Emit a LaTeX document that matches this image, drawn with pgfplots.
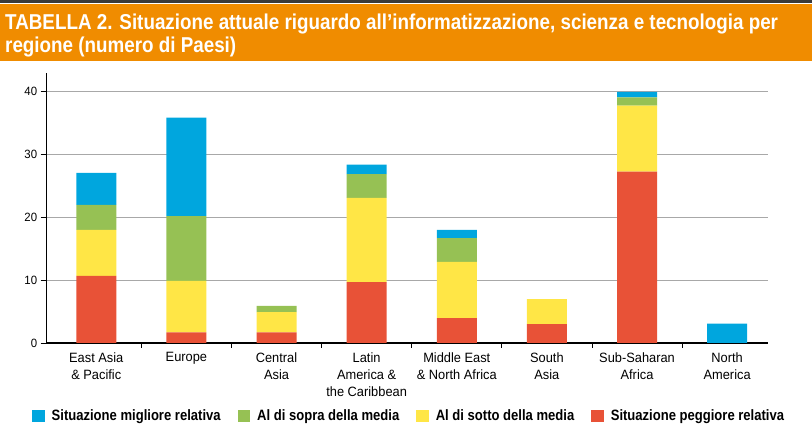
\documentclass[border=0pt]{standalone}
\usepackage{fontspec}
\setmainfont{Liberation Sans}
\newfontfamily\ttlfont{Liberation Sans}[FakeStretch=0.875]
\newfontfamily\labfont{Liberation Sans}[FakeStretch=0.95]
\newfontfamily\legfont{Liberation Sans}[FakeStretch=0.87]
\usepackage{pgfplots}
\pgfplotsset{compat=1.18}
\definecolor{band}{HTML}{F08C00}
\definecolor{bandtop}{HTML}{3A3A3A}
\definecolor{cblue}{HTML}{00A6DE}
\definecolor{cgreen}{HTML}{96C154}
\definecolor{cyellow}{HTML}{FFE646}
\definecolor{cred}{HTML}{E85237}
\definecolor{gridc}{HTML}{A8A8A8}

\begin{document}
\begin{tikzpicture}[x=1pt,y=1pt]
\useasboundingbox (0,0) rectangle (812,-435);
% title band
\fill[bandtop] (0,-0.5) rectangle (812,-3);
\fill[band] (0,-4.5) rectangle (812,-61);
\node[anchor=base west, inner sep=0, text=white,
  font=\ttlfont\bfseries\fontsize{21.5}{23}\selectfont] at (5,-30)
  {TABELLA 2. Situazione attuale riguardo all’informatizzazione, scienza e tecnologia per};
\node[anchor=base west, inner sep=0, text=white,
  font=\ttlfont\bfseries\fontsize{21.5}{23}\selectfont] at (5,-53)
  {regione (numero di Paesi)};

\begin{axis}[
    at={(46.7pt,-343pt)}, anchor=south west, scale only axis,
    width=721pt, height=270pt,
    ybar stacked, bar width=40pt,
    xmin=-0.55, xmax=7.45, ymin=0, ymax=43,
    axis x line=bottom, axis y line=left,
    axis line style={-, black, line width=1.1pt},
    tick align=outside,
    xtick={0,...,7},
    xticklabels={East Asia\\\& Pacific, Europe, Central\\Asia,
      Latin\\America \&\\the Caribbean, Middle East\\\& North Africa,
      South\\Asia, Sub-Saharan\\Africa, North\\America},
    every major x tick/.style={draw=none},
    minor xtick={0.5,1.5,...,6.5},
    minor tick length=5pt,
    ytick={0,10,20,30,40},
    major tick length=6pt,
    tick style={black, line width=0.8pt},
    ymajorgrids, grid style={gridc, line width=1pt},
    /pgf/number format/assume math mode=true,
    xticklabel style={align=center, font=\labfont\fontsize{13.5}{17}\selectfont},
    yticklabel style={font=\labfont\fontsize{12}{12}\selectfont},
    legend columns=4, reverse legend,
    legend style={at={(-0.0204,-0.27)}, anchor=west, draw=none, fill=none,
      inner sep=0pt, font=\legfont\bfseries\fontsize{15}{15}\selectfont,
      nodes={inner sep=0pt},
      /tikz/every odd column/.append style={column sep=7pt},
      /tikz/every even column/.append style={column sep=17pt}},
    legend image code/.code={\fill[#1] (0pt,-6pt) rectangle (12.5pt,6.5pt);},
]
\addplot[fill=cred, draw=none] coordinates
  {(0,10.7) (1,1.7) (2,1.7) (3,9.7) (4,3.95) (5,3.0) (6,27.3) (7,0)};
\addplot[fill=cyellow, draw=none] coordinates
  {(0,7.3) (1,8.2) (2,3.2) (3,13.4) (4,8.95) (5,4.0) (6,10.5) (7,0)};
\addplot[fill=cgreen, draw=none] coordinates
  {(0,4.0) (1,10.3) (2,1.0) (3,3.8) (4,3.8) (5,0) (6,1.3) (7,0)};
\addplot[fill=cblue, draw=none] coordinates
  {(0,5.1) (1,15.7) (2,0) (3,1.5) (4,1.3) (5,0) (6,0.9) (7,3.1)};
\legend{Situazione peggiore relativa, Al di sotto della media,
  Al di sopra della media, Situazione migliore relativa}
\end{axis}
\end{tikzpicture}
\end{document}
